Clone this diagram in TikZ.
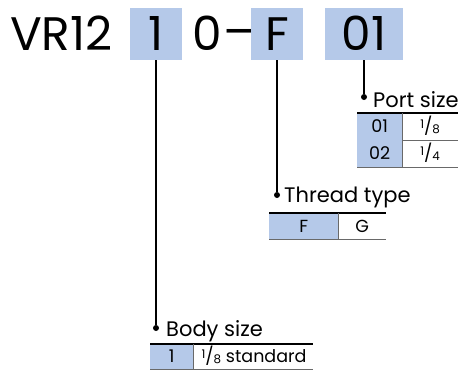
\documentclass[tikz,border=0pt]{standalone}
\usepackage{fontspec,graphicx}
\setmainfont{Poppins}
\definecolor{codeblue}{RGB}{181,201,233}
\definecolor{rulegray}{RGB}{105,105,105}
\newcommand{\frc}[2]{\raisebox{0.5ex}{\scalebox{0.68}{#1}}/\raisebox{-0.1ex}{\scalebox{0.68}{#2}}}
\tikzset{
  big/.style={font=\fontsize{47}{50}\selectfont, inner sep=0pt},
  hbox/.style={big, fill=codeblue, minimum width=52pt, minimum height=52pt, text height=33pt, text depth=0pt},
  lbl/.style={font=\fontsize{21}{24}\selectfont, inner sep=0pt, anchor=base west},
  cell/.style={font=\fontsize{17.5}{20}\selectfont, inner sep=0pt, text height=12.5pt, text depth=0pt, anchor=north west},
  dot/.style={circle, fill=black, inner sep=0pt, minimum size=6pt},
  lead/.style={line width=1.6pt},
  toprule/.style={line width=1.6pt},
  midrule/.style={rulegray, line width=1.1pt}
}

\begin{document}
\begin{tikzpicture}[x=1pt,y=-1pt]
            \useasboundingbox (0,0) rectangle (460,370);
            \node[big, anchor=base west] (vr) at (10,50) {VR12};
            \node[hbox] (bsz) at (156,34) {1};
            \node[big, anchor=base] (zero) at (207,50) {0};
            \node[big, anchor=base] (dash) at (239,48) {–};
            \node[hbox] (thr) at (277,34) {F};
            \node[hbox, minimum width=78pt] (prt) at (364,34) {01};

            \node[dot] (pdot) at (364,97) {};
            \node[lbl] (plbl) at (373,107) {Port size};
            \draw[lead] (prt.south) -- (pdot);
            \foreach \r/\a/\b in {0/01/\frc18, 1/02/\frc14}{
                \node[cell, fill=codeblue, minimum width=45pt, minimum height=27pt] (pa\r) at (357,113+27*\r) {\a};
                \node[cell, minimum width=55pt, minimum height=27pt] (pb\r) at (pa\r.north east) {\b};
                \draw[midrule] (pa\r.south west) -- (pb\r.south east);
            }
            \draw[toprule] (pa0.north west) -- (pb0.north east);
            \draw[rulegray, line width=0.8pt] (pa0.north east) -- (pa1.south east);

            \node[dot] (tdot) at (277,195) {};
            \node[lbl] (tlbl) at (284,202) {Thread type};
            \draw[lead] (thr.south) -- (tdot);
            \node[cell, fill=codeblue, minimum width=69pt, minimum height=26pt] (ta) at (269,213) {F};
            \node[cell, minimum width=47pt, minimum height=26pt] (tb) at (ta.north east) {G};
            \draw[toprule] (ta.north west) -- (tb.north east);
            \draw[midrule] (ta.south west) -- (tb.south east);
            \draw[rulegray, line width=0.8pt] (ta.north east) -- (ta.south east);

            \node[dot] (bdot) at (156,328) {};
            \node[lbl] (blbl) at (166,336) {Body size};
            \draw[lead] (bsz.south) -- (bdot);
            \node[cell, fill=codeblue, minimum width=43pt, minimum height=25pt] (ba) at (150,344) {1};
            \node[cell, minimum width=119pt, minimum height=25pt] (bb) at (ba.north east) {};
            \node[cell, anchor=west] (btxt) at ([xshift=8pt]bb.west) {\frc18 standard};
            \draw[toprule] (ba.north west) -- (bb.north east);
            \draw[midrule] (ba.south west) -- (bb.south east);
            \draw[rulegray, line width=0.8pt] (ba.north east) -- (ba.south east);
        \end{tikzpicture}
\end{document}
